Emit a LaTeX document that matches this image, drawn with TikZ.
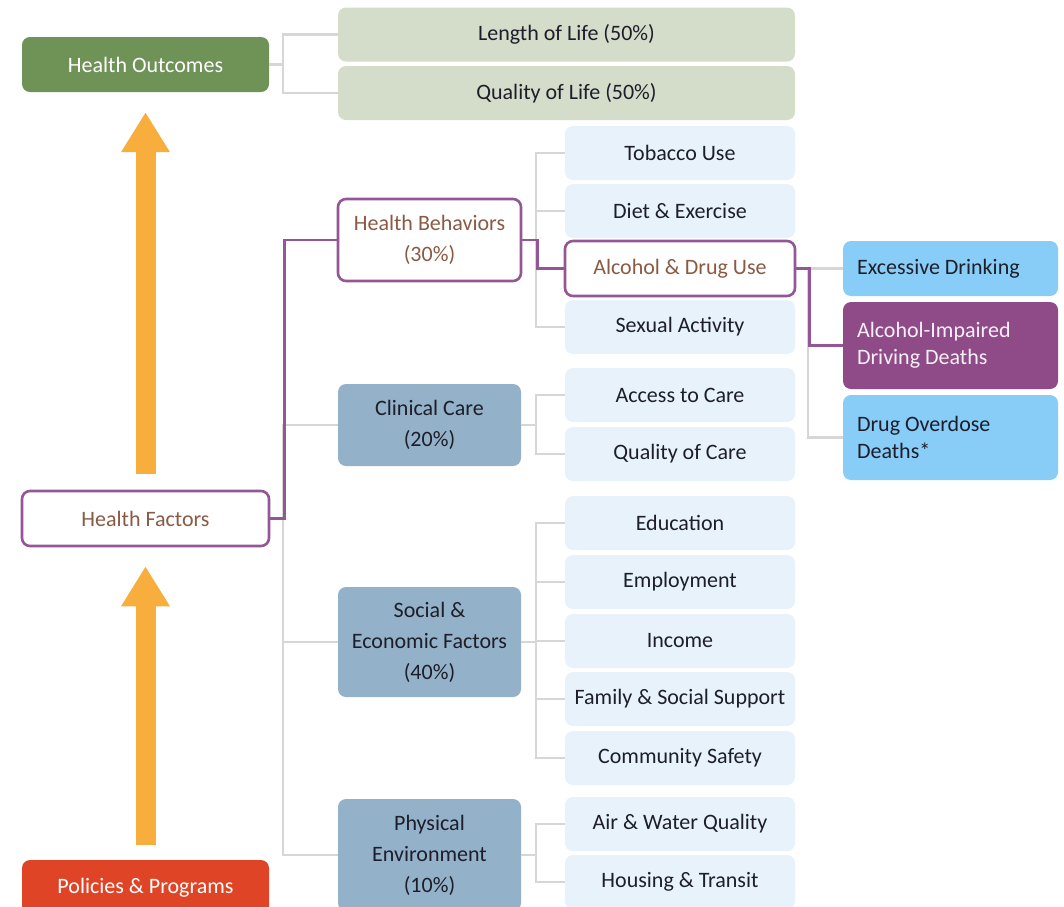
\documentclass[tikz,border=0pt]{standalone}
\usepackage{fontspec}
\setmainfont{Carlito}
\usetikzlibrary{arrows.meta,calc}

\definecolor{outgreen}{HTML}{6F9257}
\definecolor{palegreen}{HTML}{D4DDCA}
\definecolor{arroworange}{HTML}{F8AE3C}
\definecolor{policyred}{HTML}{E04426}
\definecolor{plum}{HTML}{955697}
\definecolor{plumfill}{HTML}{8E4B88}
\definecolor{steel}{HTML}{93B1C8}
\definecolor{iceblue}{HTML}{E7F2FA}
\definecolor{skyblue}{HTML}{87CDF8}
\definecolor{linegray}{HTML}{D6D6D6}
\definecolor{inkdark}{HTML}{1E1E2A}
\definecolor{inkbrown}{HTML}{8A5A44}

\tikzset{
  box/.style={rounded corners=8pt, inner sep=0pt, align=center,
    font=\fontsize{22}{30}\selectfont, text=inkdark},
  topbox/.style={box, minimum width=247pt, minimum height=55pt},
  outcome/.style={box, fill=palegreen, minimum width=457pt, minimum height=54pt},
  factor/.style={box, fill=steel, minimum width=183pt, minimum height=82pt,
    font=\fontsize{22}{31}\selectfont},
  measure/.style={box, fill=iceblue, minimum width=230pt, minimum height=54pt},
  detail/.style={box, align=flush left, text width=187pt, inner xsep=14pt,
    font=\fontsize{22}{27}\selectfont, fill=skyblue, minimum width=215pt},
  picked/.style={draw=plum, line width=2.6pt, fill=white, text=inkbrown},
  conn/.style={draw=linegray, line width=2.6pt},
  pconn/.style={draw=plum, line width=2.6pt},
  bigarrow/.style={draw=arroworange, line width=20pt,
    -{Triangle[width=46pt,length=40pt]}}
}

\begin{document}
\begin{tikzpicture}[x=1pt,y=-1pt]
  \useasboundingbox (0,0) rectangle (1064,906);
  \clip (0,0) rectangle (1064,906);

  % left column
  \node[topbox, fill=outgreen, text=white] (HO) at (145.5,64.5) {Health Outcomes};
  \node[topbox, picked] (HF) at (145.5,518.5) {Health Factors};
  \node[topbox, fill=policyred, text=white] (PP) at (145.5,887.5) {Policies \& Programs};

  % outcomes
  \node[outcome] (LoL) at (566.5,34.5) {Length of Life (50\%)};
  \node[outcome] (QoL) at (566.5,93) {Quality of Life (50\%)};

  % factor groups
  \node[factor, picked] (HB) at (429.5,240) {Health Behaviors\\(30\%)};
  \node[factor] (CC) at (429.5,425) {Clinical Care\\(20\%)};
  \node[factor, minimum height=110pt] (SE) at (429.5,642) {Social \&\\Economic Factors\\(40\%)};
  \node[factor, minimum height=112pt] (PE) at (429.5,855) {Physical\\Environment\\(10\%)};

  % measures
  \node[measure] (Tob) at (680,153) {Tobacco Use};
  \node[measure] (Diet) at (680,211) {Diet \& Exercise};
  \node[measure, picked, minimum height=55pt] (Alc) at (680,268.5) {Alcohol \& Drug Use};
  \node[measure] (Sex) at (680,327) {Sexual Activity};
  \node[measure] (Acc) at (680,395) {Access to Care};
  \node[measure] (QoC) at (680,454) {Quality of Care};
  \node[measure] (Edu) at (680,523) {Education};
  \node[measure] (Emp) at (680,582) {Employment};
  \node[measure] (Inc) at (680,641) {Income};
  \node[measure] (Fam) at (680,699) {Family \& Social Support};
  \node[measure] (Com) at (680,758) {Community Safety};
  \node[measure] (Air) at (680,824) {Air \& Water Quality};
  \node[measure] (Hou) at (680,882) {Housing \& Transit};

  % alcohol & drug details
  \node[detail, minimum height=55pt] (ExD) at (950.5,268.5) {Excessive Drinking};
  \node[detail, minimum height=87pt, fill=plumfill, text=white!92!plum] (AID) at (950.5,345.5) {Alcohol-Impaired\\Driving Deaths};
  \node[detail, minimum height=85pt] (Drug) at (950.5,437.5) {Drug Overdose\\Deaths*};

  % upward arrows
  \draw[bigarrow] ($(HF.north)+(0,-16)$) -- ($(HO.south)+(0,20)$);
  \draw[bigarrow] ($(PP.north)+(0,-15)$) -- ($(HF.south)+(0,19)$);

  % outcome bracket
  \draw[conn] (LoL.west) -- ++(-55,0) |- (QoL.west);
  \draw[conn] (HO.east) -- ++(14,0);

  % factor trunk
  \draw[conn] (CC.west) -- ++(-55,0) |- (PE.west);
  \draw[conn] (SE.west) -- ++(-55,0);

  % measure brackets
  \draw[conn] (Tob.west) -- ++(-29,0) |- (Sex.west);
  \draw[conn] (Diet.west) -- ++(-29,0);
  \draw[conn] (Acc.west) -- ++(-29,0) |- (QoC.west);
  \draw[conn] (CC.east) -- ++(15,0);
  \draw[conn] (Edu.west) -- ++(-29,0) |- (Com.west);
  \draw[conn] (Emp.west) -- ++(-29,0);
  \draw[conn] (Inc.west) -- ++(-29,0);
  \draw[conn] (Fam.west) -- ++(-29,0);
  \draw[conn] (SE.east) -- ++(15,0);
  \draw[conn] (Air.west) -- ++(-29,0) |- (Hou.west);
  \draw[conn] (PE.east) -- ++(15,0);

  % detail bracket
  \draw[conn] (ExD.west) -- ++(-35,0) |- (Drug.west);

  % highlighted path
  \draw[pconn] (HF.east) -- ++(14,0) |- (HB.west);
  \draw[pconn] (HB.east) -- ++(15,0) |- (Alc.west);
  \draw[pconn] (Alc.east) -- ++(13,0) |- (AID.west);
\end{tikzpicture}
\end{document}
